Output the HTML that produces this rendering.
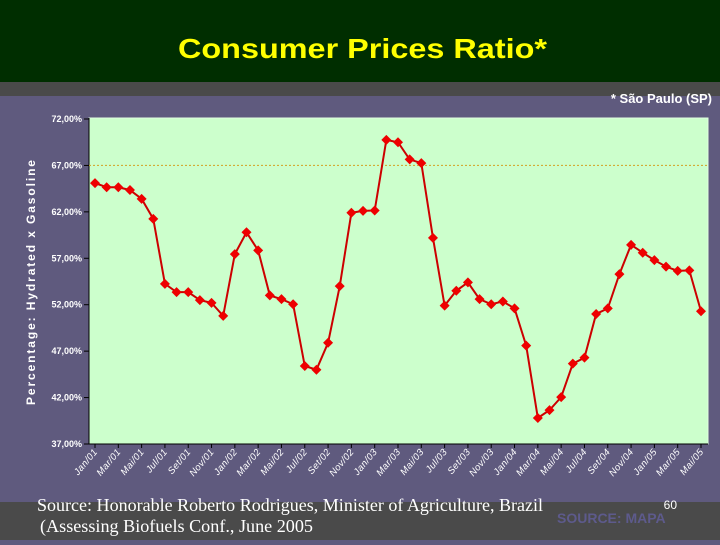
<!DOCTYPE html>
<html><head><meta charset="utf-8"><style>
body{margin:0;width:720px;height:540px;overflow:hidden;background:#5f5a7e;font-family:"Liberation Sans",sans-serif}
</style></head><body>
<svg width="720" height="540" xmlns="http://www.w3.org/2000/svg">
<rect x="0" y="0" width="720" height="82" fill="#002e00"/>
<rect x="0" y="82" width="720" height="14" fill="#4a4a4a"/>
<rect x="0" y="96" width="720" height="406" fill="#5f5a7e"/>
<rect x="0" y="502" width="720" height="38" fill="#4a4a4a"/>
<text x="178" y="58" textLength="369" lengthAdjust="spacingAndGlyphs" font-size="28" font-weight="bold" fill="#ffff00">Consumer Prices Ratio*</text>
<text x="712" y="103" text-anchor="end" font-size="13" font-weight="bold" fill="#ffffff">* São Paulo (SP)</text>
<rect x="89" y="118" width="619" height="326" fill="#ccffcc" stroke="#e0ffe0"/>
<text transform="translate(35,405) rotate(-90)" textLength="245" lengthAdjust="spacing" font-size="12" font-weight="bold" fill="#ffffff">Percentage:  Hydrated  x  Gasoline</text>
<g id="chart"></g>
<text x="37" y="511" textLength="506" lengthAdjust="spacingAndGlyphs" font-family="Liberation Serif,serif" font-size="18" fill="#ffffff">Source: Honorable Roberto Rodrigues, Minister of Agriculture, Brazil</text>
<text x="40" y="532" textLength="273" lengthAdjust="spacingAndGlyphs" font-family="Liberation Serif,serif" font-size="18" fill="#ffffff">(Assessing Biofuels Conf., June 2005</text>
<text x="677" y="509" text-anchor="end" font-size="12" fill="#ffffff">60</text>
<text x="557" y="523" font-size="14" font-weight="bold" fill="#5d5a8c">SOURCE: MAPA</text>
</svg>
<script>
const values=[65.1,64.65,64.65,64.35,63.4,61.25,54.25,53.35,53.35,52.5,52.2,50.8,57.45,59.8,57.85,53.0,52.6,52.05,45.4,45.0,47.9,54.0,61.9,62.1,62.15,69.75,69.5,67.65,67.25,59.2,51.9,53.5,54.4,52.6,52.05,52.35,51.6,47.6,39.8,40.65,42.05,45.65,46.3,51.0,51.6,55.3,58.45,57.6,56.8,56.1,55.65,55.7,51.3];
const xLabels=["Jan/01","Mar/01","Mai/01","Jul/01","Set/01","Nov/01","Jan/02","Mar/02","Mai/02","Jul/02","Set/02","Nov/02","Jan/03","Mar/03","Mai/03","Jul/03","Set/03","Nov/03","Jan/04","Mar/04","Mai/04","Jul/04","Set/04","Nov/04","Jan/05","Mar/05","Mai/05"];
const yTicks=[72,67,62,57,52,47,42,37];
const yTickLabels=["72,00%","67,00%","62,00%","57,00%","52,00%","47,00%","42,00%","37,00%"];
const refLine=[67];
const NS="http://www.w3.org/2000/svg";
const g=document.getElementById('chart');
const yS=v=>119+(72-v)*(325/35);
const xS=i=>95+i*(606/(values.length-1));
function mk(t,a){const e=document.createElementNS(NS,t);for(const k in a)e.setAttribute(k,a[k]);g.appendChild(e);return e;}
yTicks.forEach((v,i)=>{
 const t=mk('line',{x1:84,x2:89,y1:yS(v),y2:yS(v),stroke:'#000'});
 
 
 const l=mk('text',{x:82,y:yS(v)+3,'text-anchor':'end','font-size':'9','font-weight':'bold',fill:'#fff'});
 l.textContent=yTickLabels[i];
 
 
});
mk('line',{x1:89,x2:89,y1:118,y2:444,stroke:'#000'});
mk('line',{x1:89,x2:708,y1:444,y2:444,stroke:'#000'});
const rl=mk('line',{x1:89,x2:708,y1:yS(refLine[0]),y2:yS(refLine[0]),stroke:'#d4a020','stroke-dasharray':'2,2','stroke-width':1});


xLabels.forEach((s,j)=>{
 const x=xS(j*2);
 const t=mk('line',{x1:x,x2:x,y1:444,y2:448,stroke:'#000'});
 
 
 const l=mk('text',{transform:`translate(${x+3},${452}) rotate(-50)`,'text-anchor':'end','font-size':'9.5','font-style':'italic','letter-spacing':'0.4',fill:'#fff'});
 l.textContent=s;
 
 
});
const ln=mk('polyline',{points:values.map((v,i)=>xS(i)+','+yS(v)).join(' '),fill:'none',stroke:'#cc0000','stroke-width':2});


values.forEach((v,i)=>{
 const x=xS(i),y=yS(v);
 const p=mk('polygon',{points:`${x},${y-5} ${x+5},${y} ${x},${y+5} ${x-5},${y}`,fill:'#ee0000'});
 
 
});
</script>
</body></html>
